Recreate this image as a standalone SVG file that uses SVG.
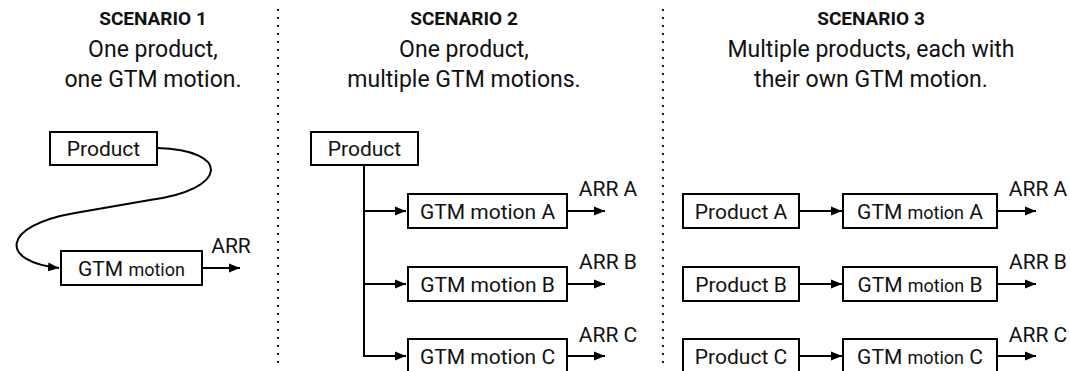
<svg xmlns="http://www.w3.org/2000/svg" width="1070" height="371" viewBox="0 0 1070 371">
<style>
text{font-family:Roboto,"Liberation Sans",sans-serif;fill:#111;}
.h{font-size:19px;font-weight:bold;text-anchor:middle;}
.s{font-size:23px;text-anchor:middle;}
.l{font-size:21px;text-anchor:middle;}
.sm{font-size:18px;}
.box{fill:#fff;stroke:#000;stroke-width:2;}
.c{fill:none;stroke:#000;stroke-width:2;}
.div{stroke:#222;stroke-width:2;stroke-dasharray:2 6;}
</style>
<defs>
<marker id="ah" viewBox="0 0 10 10" refX="10" refY="5" markerWidth="11" markerHeight="11" markerUnits="userSpaceOnUse" orient="auto">
<path d="M0,1 L10,5 L0,9 z" fill="#000"/>
</marker>
</defs>
<rect width="1070" height="371" fill="#fff"/>
<g id="dividers">
<line class="div" x1="278" y1="9" x2="278" y2="369"/>
<line class="div" x1="663" y1="9" x2="663" y2="369"/>
</g>
<g id="headers">
<text class="h" x="153" y="25">SCENARIO 1</text>
<text class="s" x="153" y="57">One product,</text>
<text class="s" x="153" y="87">one GTM motion.</text>
<text class="h" x="464" y="25">SCENARIO 2</text>
<text class="s" x="464" y="57">One product,</text>
<text class="s" x="464" y="87">multiple GTM motions.</text>
<text class="h" x="871" y="25">SCENARIO 3</text>
<text class="s" x="871" y="57">Multiple products, each with</text>
<text class="s" x="871" y="87">their own GTM motion.</text>
</g>
<g id="connectors">
<path class="c" d="M157,148 C232,150 228,190 150,200 L75,213 C0,226 0,262 59,268" marker-end="url(#ah)"/>
<line class="c" x1="202" y1="268" x2="240" y2="268" marker-end="url(#ah)"/>
<path class="c" d="M364,165 V356 H395"/>
<line class="c" x1="364" y1="211" x2="406" y2="211" marker-end="url(#ah)"/>
<line class="c" x1="364" y1="284" x2="406" y2="284" marker-end="url(#ah)"/>
<line class="c" x1="392" y1="356" x2="406" y2="356" marker-end="url(#ah)"/>
<line class="c" x1="567" y1="211" x2="605" y2="211" marker-end="url(#ah)"/>
<line class="c" x1="567" y1="284" x2="605" y2="284" marker-end="url(#ah)"/>
<line class="c" x1="567" y1="356" x2="605" y2="356" marker-end="url(#ah)"/>
<line class="c" x1="799" y1="211" x2="842" y2="211" marker-end="url(#ah)"/>
<line class="c" x1="799" y1="284" x2="842" y2="284" marker-end="url(#ah)"/>
<line class="c" x1="799" y1="356" x2="842" y2="356" marker-end="url(#ah)"/>
<line class="c" x1="997" y1="211" x2="1036" y2="211" marker-end="url(#ah)"/>
<line class="c" x1="997" y1="284" x2="1036" y2="284" marker-end="url(#ah)"/>
<line class="c" x1="997" y1="356" x2="1036" y2="356" marker-end="url(#ah)"/>
</g>
<g id="s1-product"><rect class="box" x="50" y="132" width="107" height="33"/><text class="l" x="103.5" y="156">Product</text></g>
<g id="s1-gtm"><rect class="box" x="61" y="251" width="141" height="34"/><text class="l" x="131.5" y="275.5">GTM <tspan class="sm">motion</tspan></text></g>
<g id="s1-arr"><text class="l" x="231" y="253">ARR</text></g>
<g id="s2-product"><rect class="box" x="311" y="132" width="107" height="33"/><text class="l" x="364.5" y="156">Product</text></g>
<g id="s2-gtm-a"><rect class="box" x="408" y="194" width="159" height="34"/><text class="l" x="487.5" y="218.5">GTM motion A</text></g>
<g id="s2-gtm-b"><rect class="box" x="408" y="267" width="159" height="34"/><text class="l" x="487.5" y="291.5">GTM motion B</text></g>
<g id="s2-gtm-c"><rect class="box" x="408" y="339" width="159" height="34"/><text class="l" x="487.5" y="363.5">GTM motion C</text></g>
<g id="s2-arr"><text class="l" x="608" y="196">ARR A</text><text class="l" x="608" y="269">ARR B</text><text class="l" x="608" y="342">ARR C</text></g>
<g id="s3-product-a"><rect class="box" x="683" y="194" width="116" height="34"/><text class="l" x="741" y="218.5">Product A</text></g>
<g id="s3-product-b"><rect class="box" x="683" y="267" width="116" height="34"/><text class="l" x="741" y="291.5">Product B</text></g>
<g id="s3-product-c"><rect class="box" x="683" y="339" width="116" height="34"/><text class="l" x="741" y="363.5">Product C</text></g>
<g id="s3-gtm-a"><rect class="box" x="843" y="194" width="154" height="34"/><text class="l" x="920" y="218.5">GTM <tspan class="sm">motion</tspan> A</text></g>
<g id="s3-gtm-b"><rect class="box" x="843" y="267" width="154" height="34"/><text class="l" x="920" y="291.5">GTM <tspan class="sm">motion</tspan> B</text></g>
<g id="s3-gtm-c"><rect class="box" x="843" y="339" width="154" height="34"/><text class="l" x="920" y="363.5">GTM <tspan class="sm">motion</tspan> C</text></g>
<g id="s3-arr"><text class="l" x="1038" y="196">ARR A</text><text class="l" x="1038" y="269">ARR B</text><text class="l" x="1038" y="342">ARR C</text></g>
</svg>
